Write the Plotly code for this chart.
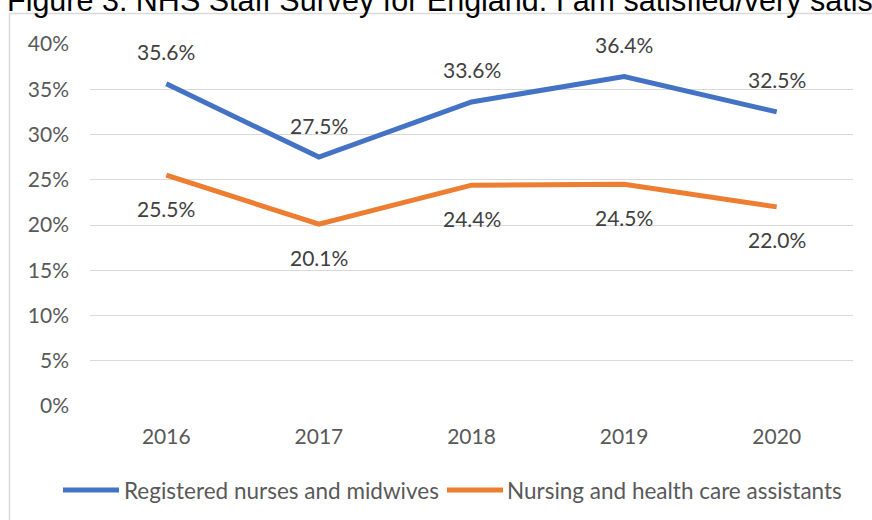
import plotly.graph_objects as go

# Survey results: share of staff satisfied/very satisfied, by year
years = ["2016", "2017", "2018", "2019", "2020"]
registered_nurses = [0.356, 0.275, 0.336, 0.364, 0.325]
care_assistants = [0.255, 0.201, 0.244, 0.245, 0.220]
series_names = ["Registered nurses and midwives", "Nursing and health care assistants"]
y_ticks = [0, 0.05, 0.10, 0.15, 0.20, 0.25, 0.30, 0.35, 0.40]

title_text = "Figure 3: NHS Staff Survey for England: I am satisfied/very satisfied"

BLUE = "#4472C4"
ORANGE = "#ED7D31"
GRID = "#D9D9D9"
TEXT = "#595959"
LABEL = "#404040"
FONT = "Lato, 'Open Sans', sans-serif"

W, H = 872, 520
ML, MR, MT, MB = 90, 19, 44, 114
PW, PH = W - ML - MR, H - MT - MB


def px_x(px):
    return (px - ML) / PW


def px_y(py):
    return (H - MB - py) / PH


fig = go.Figure()
fig.add_trace(go.Scatter(
    x=years, y=registered_nurses, name=series_names[0], mode="lines",
    line=dict(color=BLUE, width=5), hoverinfo="skip", showlegend=False,
))
fig.add_trace(go.Scatter(
    x=years, y=care_assistants, name=series_names[1], mode="lines",
    line=dict(color=ORANGE, width=5), hoverinfo="skip", showlegend=False,
))

annotations = []
# value labels: above the blue line, below the orange line (x given as category index)
for i, v in enumerate(registered_nurses):
    annotations.append(dict(
        x=i, y=v, xref="x", yref="y", text=f"{v * 100:.1f}%", showarrow=False,
        yshift=32, yanchor="middle", font=dict(family=FONT, size=21, color=LABEL),
    ))
for i, v in enumerate(care_assistants):
    annotations.append(dict(
        x=i, y=v, xref="x", yref="y", text=f"{v * 100:.1f}%", showarrow=False,
        yshift=-33, yanchor="middle", font=dict(family=FONT, size=21, color=LABEL),
    ))
# figure caption, running off the top and right of the page
annotations.append(dict(
    x=px_x(5), y=px_y(20.5), xref="paper", yref="paper", xanchor="left", yanchor="bottom",
    text=title_text, showarrow=False, align="left",
    font=dict(family="Liberation Sans, Arial, sans-serif", size=30.5, color="#000000"),
))

# legend: long line swatch followed by the series name
legend_items = [(series_names[0], BLUE, 63, 119, 122), (series_names[1], ORANGE, 447, 503, 505)]
shapes = []
for name, color, sx0, sx1, tx in legend_items:
    shapes.append(dict(
        type="line", xref="paper", yref="paper",
        x0=px_x(sx0), x1=px_x(sx1), y0=px_y(490), y1=px_y(490),
        line=dict(color=color, width=5),
    ))
    annotations.append(dict(
        x=px_x(tx), y=px_y(490), xref="paper", yref="paper", xanchor="left",
        yanchor="middle", text=name, showarrow=False,
        font=dict(family=FONT, size=22.5, color=TEXT),
    ))

# chart frame
shapes.append(dict(
    type="rect", xref="paper", yref="paper",
    x0=px_x(9.5), x1=px_x(W + 20), y0=px_y(13.5), y1=px_y(H + 20),
    line=dict(color=GRID, width=1.5), fillcolor="rgba(0,0,0,0)", layer="above",
))

fig.update_layout(
    width=W, height=H,
    margin=dict(l=ML, r=MR, t=MT, b=MB, pad=0),
    paper_bgcolor="white", plot_bgcolor="white",
    font=dict(family=FONT, size=21, color=TEXT),
    showlegend=False,
    xaxis=dict(
        type="category", range=[-0.5, 4.5], showgrid=False, zeroline=False,
        showline=False, ticks="", ticklabelstandoff=16,
        tickfont=dict(family=FONT, size=21, color=TEXT),
    ),
    yaxis=dict(
        range=[0, 0.4], tickvals=y_ticks, tickformat=".0%", showgrid=True,
        gridcolor=GRID, gridwidth=1.3, zeroline=False, showline=False, ticks="",
        ticklabelstandoff=20, tickfont=dict(family=FONT, size=21, color=TEXT),
    ),
    annotations=annotations,
    shapes=shapes,
)

fig.write_html("out.html")
